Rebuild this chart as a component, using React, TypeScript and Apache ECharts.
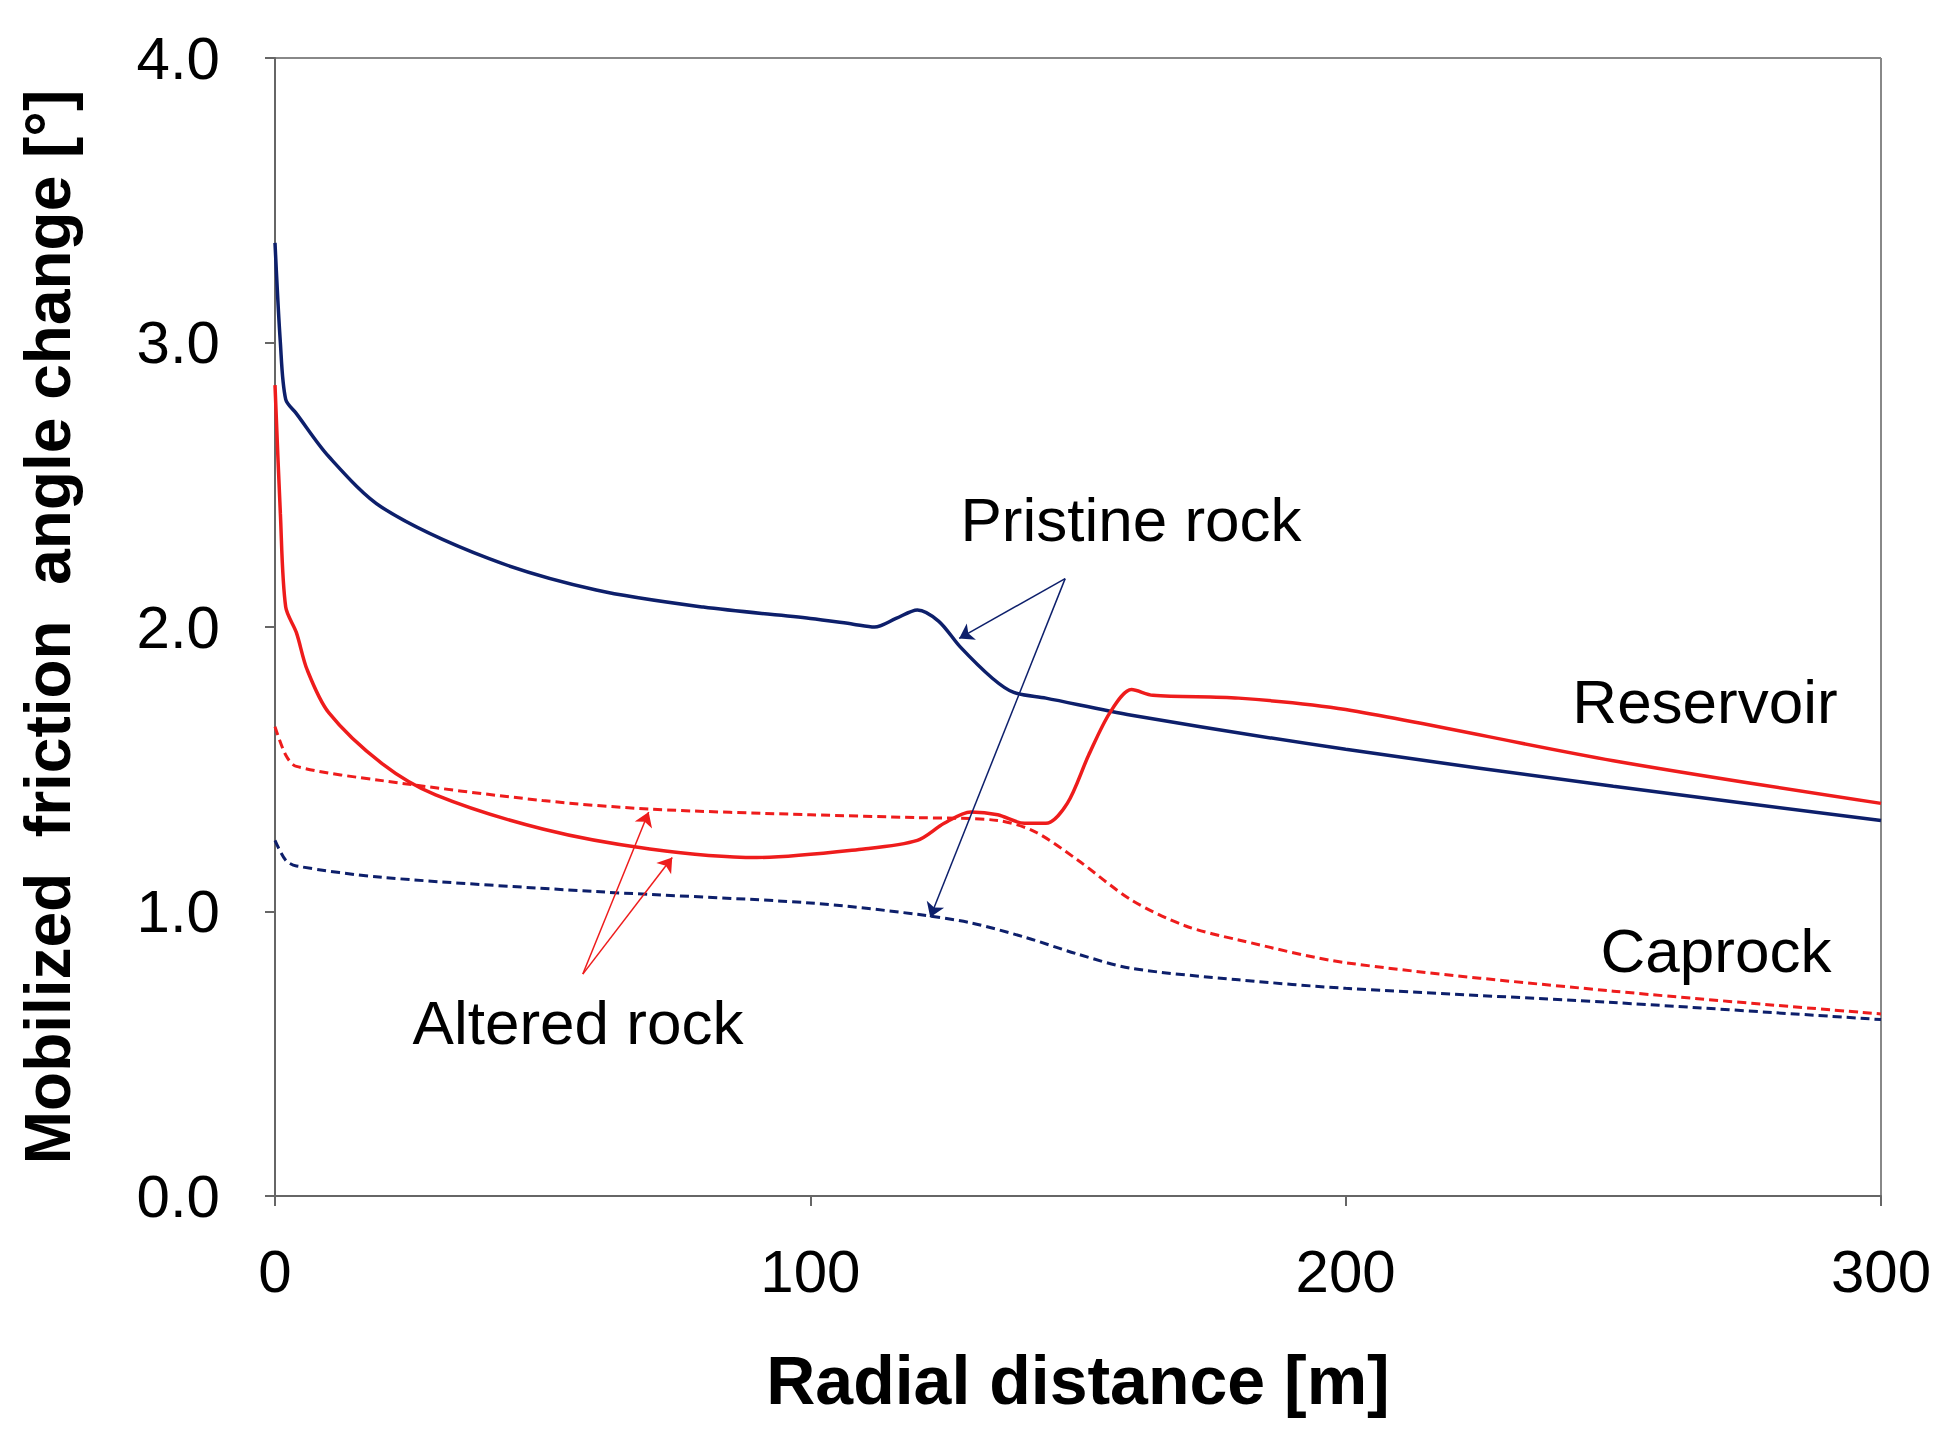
import { useEffect, useRef } from 'react';
import * as echarts from 'echarts';

const resPristine: [number, number][] = [
  [0, 3.35], [1, 3.0], [2, 2.8], [4, 2.75], [10, 2.6], [20, 2.42], [40, 2.24], [60, 2.13], [80, 2.07],
  [100, 2.03], [108, 2.01], [112, 2.0], [116, 2.03], [120, 2.06], [124, 2.02], [128, 1.93], [134, 1.82],
  [138, 1.77], [144, 1.75], [160, 1.69], [200, 1.57], [250, 1.44], [300, 1.32],
];
const resAltered: [number, number][] = [
  [0, 2.85], [1, 2.4], [2, 2.07], [4, 1.98], [6, 1.85], [10, 1.7], [20, 1.52], [30, 1.41], [50, 1.29],
  [70, 1.22], [90, 1.19], [110, 1.22], [120, 1.25], [125, 1.31], [130, 1.35], [135, 1.34], [140, 1.31],
  [144, 1.31], [148, 1.38], [152, 1.55], [156, 1.7], [160, 1.78], [164, 1.76], [180, 1.75], [200, 1.71],
  [250, 1.53], [300, 1.38],
];
const capAltered: [number, number][] = [
  [0, 1.65], [2, 1.55], [4, 1.51], [20, 1.46], [50, 1.39], [70, 1.36], [100, 1.34], [120, 1.33],
  [135, 1.32], [142, 1.28], [150, 1.18], [160, 1.04], [170, 0.95], [180, 0.9], [200, 0.82], [250, 0.72],
  [300, 0.64],
];
const capPristine: [number, number][] = [
  [0, 1.25], [2, 1.18], [4, 1.16], [20, 1.12], [60, 1.07], [100, 1.03], [120, 0.99], [130, 0.96],
  [140, 0.91], [150, 0.85], [160, 0.8], [180, 0.76], [200, 0.73], [250, 0.68], [300, 0.62],
];
const pristineArrows: [[number, number], [number, number]][] = [
  [[147.6, 2.17], [127.8, 1.96]],
  [[147.6, 2.17], [122.4, 0.98]],
];
const alteredArrows: [[number, number], [number, number]][] = [
  [[57.5, 0.78], [69.8, 1.35]],
  [[57.5, 0.78], [74.2, 1.19]],
];

const BLUE = '#0d1f6b';
const RED = '#ee1c1c';
const FONT = 'Arial, "Liberation Sans", sans-serif';

const arrows = (list: typeof pristineArrows, color: string) => ({
  silent: true,
  symbol: ['none', 'arrow'],
  symbolSize: 14,
  label: { show: false },
  lineStyle: { color, width: 1.5, type: 'solid' as const },
  data: list.map(([a, b]) => [{ coord: a }, { coord: b }]),
});

export default function App() {
  const ref = useRef<HTMLDivElement>(null);

  useEffect(() => {
    if (!ref.current) return;
    const chart = echarts.init(ref.current, null, { renderer: 'svg' });
    const txt = (x: number, y: number, text: string) => ({
      type: 'text',
      x,
      y,
      style: { text, fontSize: 62, fontFamily: FONT, fill: '#000', align: 'center', verticalAlign: 'middle' },
    });
    chart.setOption({
      animation: false,
      backgroundColor: '#fff',
      grid: { left: 262, right: 63, top: 50, bottom: 237 },
      xAxis: {
        type: 'value', min: 0, max: 300, interval: 100,
        name: 'Radial distance [m]', nameLocation: 'middle', nameGap: 150,
        nameTextStyle: { fontSize: 68, fontWeight: 'bold', fontFamily: FONT, color: '#000' },
        axisLine: { lineStyle: { color: '#666', width: 2 } },
        axisTick: { show: true, inside: false, length: 10, lineStyle: { color: '#666', width: 2 } },
        axisLabel: { fontSize: 60, fontFamily: FONT, color: '#000', margin: 45 },
        splitLine: { show: false },
      },
      yAxis: {
        type: 'value', min: 0, max: 4, interval: 1,
        name: 'Mobilized  friction  angle change [°]', nameLocation: 'middle', nameGap: 195,
        nameTextStyle: { fontSize: 64, fontWeight: 'bold', fontFamily: FONT, color: '#000' },
        axisLine: { show: true, lineStyle: { color: '#666', width: 2 } },
        axisTick: { show: true, length: 10, lineStyle: { color: '#666', width: 2 } },
        axisLabel: { fontSize: 60, fontFamily: FONT, color: '#000', margin: 55, formatter: (v: number) => v.toFixed(1) },
        splitLine: { show: false },
      },
      graphic: [
        { type: 'line', shape: { x1: 262, y1: 50, x2: 1873, y2: 50 }, style: { stroke: '#888', lineWidth: 2 } },
        { type: 'line', shape: { x1: 1873, y1: 50, x2: 1873, y2: 1188 }, style: { stroke: '#888', lineWidth: 2 } },
        txt(1123, 511, 'Pristine rock'),
        txt(570, 1014, 'Altered rock'),
        txt(1697, 693, 'Reservoir'),
        txt(1708, 942, 'Caprock'),
      ],
      series: [
        { type: 'line', data: resPristine, smooth: 0.3, showSymbol: false, lineStyle: { color: BLUE, width: 3.5 },
          markLine: arrows(pristineArrows, BLUE) },
        { type: 'line', data: resAltered, smooth: 0.3, showSymbol: false, lineStyle: { color: RED, width: 3.5 },
          markLine: arrows(alteredArrows, RED) },
        { type: 'line', data: capAltered, smooth: 0.3, showSymbol: false, lineStyle: { color: RED, width: 3, type: [9, 5] } },
        { type: 'line', data: capPristine, smooth: 0.3, showSymbol: false, lineStyle: { color: BLUE, width: 3, type: [9, 5] } },
      ],
    });
    return () => chart.dispose();
  }, []);

  return <div ref={ref} style={{ width: 1936, height: 1425 }} />;
}
